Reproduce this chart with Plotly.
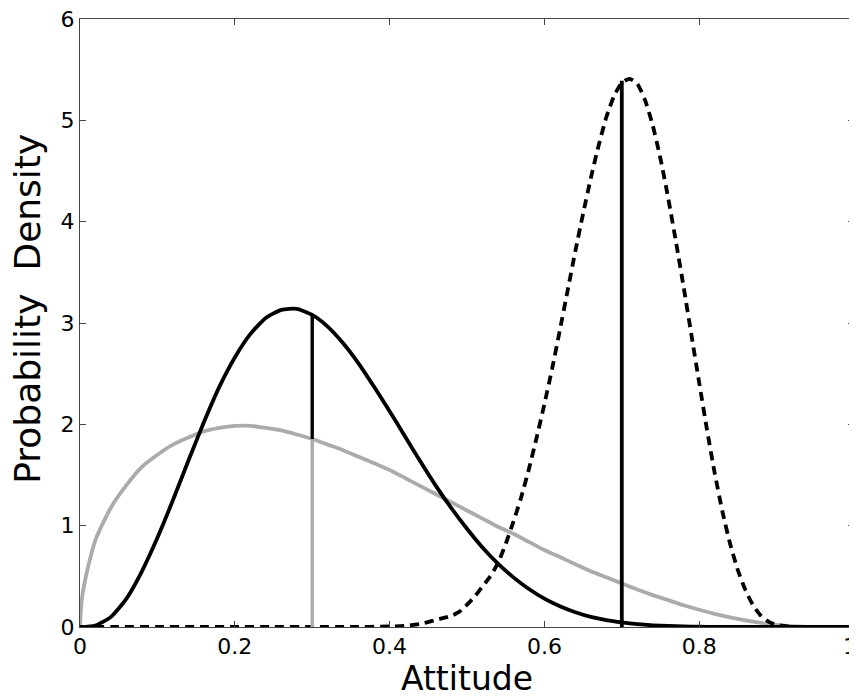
import plotly.graph_objects as go

# ---- data ----
gray_x = [0.0, 0.002, 0.005, 0.01, 0.02, 0.04, 0.06, 0.08, 0.10, 0.12, 0.14, 0.16, 0.18,
          0.20, 0.22, 0.24, 0.26, 0.28, 0.30, 0.32, 0.34, 0.36, 0.38, 0.40, 0.42, 0.44,
          0.46, 0.48, 0.50, 0.52, 0.54, 0.56, 0.58, 0.60, 0.62, 0.64, 0.66, 0.68, 0.70,
          0.72, 0.74, 0.76, 0.78, 0.80, 0.82, 0.84, 0.86, 0.88, 0.90, 0.92, 0.94, 0.96,
          0.98, 1.0]
gray_y = [0.0, 0.25, 0.40, 0.58, 0.86, 1.18, 1.40, 1.58, 1.70, 1.80, 1.87, 1.93, 1.965,
          1.985, 1.985, 1.965, 1.94, 1.90, 1.855, 1.80, 1.745, 1.68, 1.615, 1.55, 1.47, 1.39,
          1.31, 1.23, 1.15, 1.07, 0.99, 0.92, 0.84, 0.76, 0.69, 0.62, 0.55, 0.49, 0.43,
          0.37, 0.315, 0.265, 0.215, 0.17, 0.13, 0.095, 0.065, 0.04, 0.02, 0.008, 0.002, 0.0,
          0.0, 0.0]

black_x = [0.00, 0.02, 0.04, 0.06, 0.08, 0.10, 0.12, 0.14, 0.16, 0.18, 0.20, 0.22, 0.24,
           0.26, 0.28, 0.30, 0.32, 0.34, 0.36, 0.38, 0.40, 0.42, 0.44, 0.46, 0.48, 0.50,
           0.52, 0.54, 0.56, 0.58, 0.60, 0.62, 0.64, 0.66, 0.68, 0.70, 0.72, 0.74, 0.76,
           0.78, 0.80, 0.82, 0.84, 0.86, 0.88, 0.90, 0.92, 0.94, 0.96, 0.98, 1.00]
black_y = [0.0, 0.015, 0.10, 0.28, 0.55, 0.88, 1.25, 1.64, 2.02, 2.37, 2.66, 2.89, 3.05,
           3.13, 3.14, 3.08, 2.965, 2.80, 2.60, 2.37, 2.13, 1.88, 1.63, 1.39, 1.17, 0.97,
           0.785, 0.625, 0.49, 0.375, 0.28, 0.205, 0.146, 0.10, 0.068, 0.045, 0.028, 0.017, 0.01,
           0.005, 0.003, 0.001, 0.0, 0.0, 0.0, 0.0, 0.0, 0.0, 0.0, 0.0, 0.0]

dash_x = [0.0, 0.05, 0.10, 0.15, 0.20, 0.25, 0.30, 0.35, 0.40, 0.42, 0.44, 0.46, 0.48, 0.49,
          0.50, 0.51, 0.52, 0.53, 0.54, 0.55, 0.56, 0.57, 0.58, 0.59,
          0.60, 0.61, 0.62, 0.63, 0.64, 0.65, 0.66, 0.67, 0.68, 0.69,
          0.70, 0.71, 0.72, 0.73, 0.74, 0.75, 0.76, 0.77, 0.78, 0.79,
          0.80, 0.81, 0.82, 0.83, 0.84, 0.85, 0.86, 0.87, 0.88, 0.89, 0.90,
          0.92, 0.94, 0.97, 1.0]
dash_y = [0.0, 0.0, 0.0, 0.0, 0.0, 0.0, 0.0, 0.0, 0.005, 0.012, 0.03, 0.07, 0.11, 0.15,
          0.22, 0.30, 0.40, 0.50, 0.63, 0.82, 1.04, 1.28, 1.56, 1.87,
          2.20, 2.55, 2.93, 3.32, 3.71, 4.08, 4.43, 4.75, 5.03, 5.24,
          5.37, 5.41, 5.36, 5.20, 4.95, 4.62, 4.23, 3.80, 3.35, 2.88,
          2.41, 1.95, 1.52, 1.14, 0.82, 0.56, 0.36, 0.21, 0.11, 0.05, 0.02,
          0.003, 0.0, 0.0, 0.0]

# vertical marker lines
left_x = 0.3
left_gray_top = 1.855
left_black_top = 3.08
right_x = 0.7
right_black_top = 5.39

x_ticks = [0, 0.2, 0.4, 0.6, 0.8, 1]
x_tick_labels = ["0", "0.2", "0.4", "0.6", "0.8", "1"]
y_ticks = [0, 1, 2, 3, 4, 5, 6]
y_tick_labels = ["0", "1", "2", "3", "4", "5", "6"]

x_title = "Attitude"
y_title = "Probability\u00a0 Density"

FONT = "DejaVu Sans"
GRAY = "#ababab"

fig = go.Figure()
fig.add_trace(go.Scatter(x=gray_x, y=gray_y, mode="lines",
                         line=dict(color=GRAY, width=3.8, shape="spline", smoothing=0.6),
                         showlegend=False, hoverinfo="skip"))
fig.add_trace(go.Scatter(x=black_x, y=black_y, mode="lines",
                         line=dict(color="black", width=3.8, shape="spline", smoothing=0.6),
                         showlegend=False, hoverinfo="skip"))
fig.add_trace(go.Scatter(x=dash_x, y=dash_y, mode="lines",
                         line=dict(color="black", width=3.8, dash="9px,6px",
                                   shape="spline", smoothing=0.6),
                         showlegend=False, hoverinfo="skip"))
fig.add_trace(go.Scatter(x=[left_x, left_x], y=[0, left_gray_top], mode="lines",
                         line=dict(color=GRAY, width=3.4),
                         showlegend=False, hoverinfo="skip"))
fig.add_trace(go.Scatter(x=[left_x, left_x], y=[left_gray_top, left_black_top], mode="lines",
                         line=dict(color="black", width=3.4),
                         showlegend=False, hoverinfo="skip"))
fig.add_trace(go.Scatter(x=[right_x, right_x], y=[0, right_black_top], mode="lines",
                         line=dict(color="black", width=3.8),
                         showlegend=False, hoverinfo="skip"))

axis_common = dict(showgrid=False, zeroline=False, showline=True, mirror="ticks",
                   linecolor="#444444", linewidth=1, ticks="inside", ticklen=6,
                   tickwidth=1, tickcolor="#444444", ticklabeloverflow="allow",
                   tickfont=dict(family=FONT, size=22, color="black"))

# the last x label sits on the page edge; it is drawn as an annotation nudged
# a few px inward so that it stays readable
shown_x_labels = x_tick_labels[:-1] + [""]

# the page body adds an 8px offset, so the figure is 8px smaller and its
# margins are reduced accordingly to keep the plot box where the reference has it
fig.update_layout(
    width=849, height=692,
    margin=dict(l=72, r=3, t=11, b=73, autoexpand=False),
    paper_bgcolor="white", plot_bgcolor="white",
    xaxis=dict(range=[0, 1], tickvals=x_ticks, ticktext=shown_x_labels,
               title=dict(text=x_title, font=dict(family=FONT, size=33, color="black"),
                          standoff=2),
               **axis_common),
    yaxis=dict(range=[0, 6], tickvals=y_ticks, ticktext=y_tick_labels, **axis_common),
    annotations=[
        dict(text=y_title, textangle=-90, xref="paper", yref="paper",
             x=-0.068, y=0.524, xanchor="center", yanchor="middle",
             showarrow=False, font=dict(family=FONT, size=36, color="black")),
        dict(text=x_tick_labels[-1], xref="x", yref="paper", x=x_ticks[-1], y=0,
             xanchor="center", yanchor="middle", xshift=-4, yshift=-19,
             showarrow=False, font=dict(family=FONT, size=22, color="black")),
    ],
)

fig.write_html("out.html")
